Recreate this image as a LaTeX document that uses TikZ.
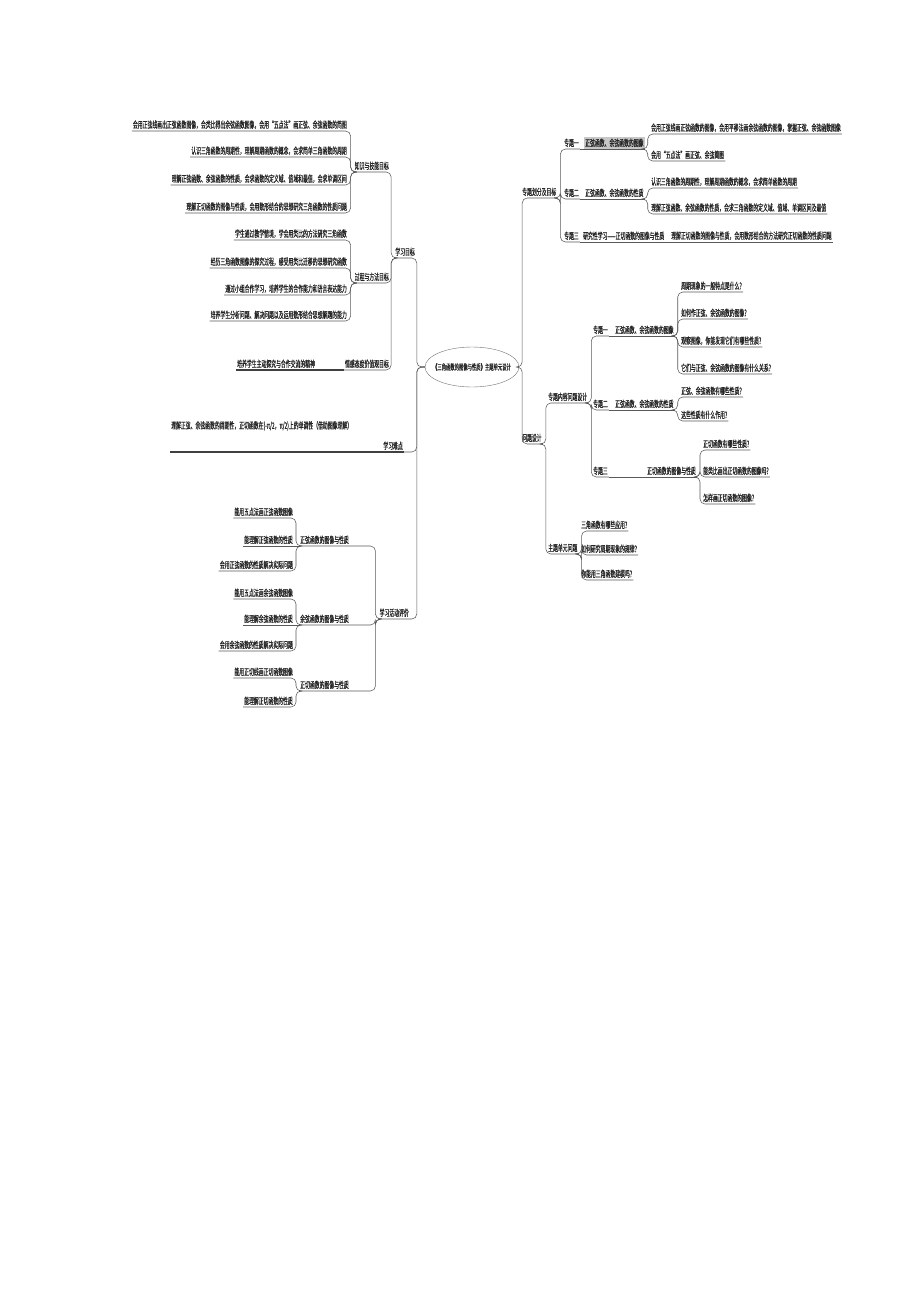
\documentclass[tikz,border=0pt]{standalone}
\usepackage{fontspec}
\newfontfamily\cjk[FakeStretch=0.54, FakeBold=0.6]{Noto Sans CJK SC}
\usetikzlibrary{shapes.geometric}

\begin{document}
\begin{tikzpicture}[x=1pt, y=-1pt,
	topic/.style={font=\cjk\fontsize{9}{10}\selectfont, text=black!85, inner xsep=1pt, inner ysep=1.8pt},
	lt/.style={topic, anchor=south east},
	rt/.style={topic, anchor=south west},
	link/.style={draw=black!65, line width=0.55pt, rounded corners=5pt},
	heavy/.style={draw=black!75, line width=1.4pt},
	hilite/.style={fill=black!22},
	root/.style={draw=black!55, ellipse, minimum width=94, minimum height=40, inner xsep=-10pt, inner ysep=0pt, text=black!85, font=\cjk\fontsize{8}{9}\selectfont}
]
\useasboundingbox (0,0) rectangle (920,1302);

% centre
\node[root] (ctr) at (472,367) {《三角函数的图像与性质》主题单元设计};

% learning goals
\node[lt] (goal) at (416,258) {学习目标};
\node[lt] (kz) at (390,172) {知识与技能目标};
\node[lt] (gc) at (390,283) {过程与方法目标};
\node[lt] (qg) at (390,370) {情感态度价值观目标};

\node[lt] (k1) at (348,131) {会用正弦线画出正弦函数图像，会类比得出余弦函数图像，会用“五点法”画正弦、余弦函数的简图};
\node[lt] (k2) at (348,157) {认识三角函数的周期性，理解周期函数的概念，会求简单三角函数的周期};
\node[lt] (k3) at (348,185) {理解正弦函数、余弦函数的性质，会求函数的定义域、值域和最值，会求单调区间};
\node[lt] (k4) at (348,213) {理解正切函数的图像与性质，会用数形结合的思想研究三角函数的性质问题};

\node[lt] (g1) at (348,240) {学生通过教学情境，学会用类比的方法研究三角函数};
\node[lt] (g2) at (348,268) {经历三角函数图像的探究过程，感受用类比迁移的思想研究函数};
\node[lt] (g3) at (348,295) {通过小组合作学习，培养学生的合作能力和语言表达能力};
\node[lt] (g4) at (348,321) {培养学生分析问题、解决问题以及运用数形结合思想解题的能力};

\node[rt] (q1) at (236,370) {培养学生主动探究与合作交流的精神};

% difficulty
\node[lt] (nd) at (404,452) {学习难点};
\node[rt, minimum height=52] (nd1) at (170,452) {理解正弦、余弦函数的周期性，正切函数在(-π/2，π/2)上的单调性（借助图像理解）};

% evaluation
\node[lt] (pj) at (410,619) {学习活动评价};
\node[lt] (zx) at (350,546) {正弦函数的图像与性质};
\node[lt] (yx) at (350,625) {余弦函数的图像与性质};
\node[lt] (zq) at (350,691) {正切函数的图像与性质};

\node[lt] (zx1) at (294,518) {能用五点法画正弦函数图像};
\node[lt] (zx2) at (294,546) {能理解正弦函数的性质};
\node[lt] (zx3) at (294,571) {会用正弦函数的性质解决实际问题};
\node[lt] (yx1) at (294,599) {能用五点法画余弦函数图像};
\node[lt] (yx2) at (294,625) {能理解余弦函数的性质};
\node[lt] (yx3) at (294,651) {会用余弦函数的性质解决实际问题};
\node[lt] (zq1) at (294,678) {能用正切线画正切函数图像};
\node[lt] (zq2) at (294,707) {能理解正切函数的性质};

% topics and aims
\node[rt] (fh) at (521,198) {专题划分及目标};
\node[rt] (zt1) at (563,149) {专题一};
\node[rt] (zt2) at (563,199) {专题二};
\node[rt] (zt3) at (563,242) {专题三};
\node[rt, hilite] (t1) at (584,149) {正弦函数、余弦函数的图像};
\node[rt] (t2) at (584,199) {正弦函数、余弦函数的性质};
\node[rt] (t3) at (582,242) {研究性学习——正切函数的图像与性质};

\node[rt] (a1) at (650,134) {会用正弦线画正弦函数的图像，会用平移法画余弦函数的图像，掌握正弦、余弦函数图像};
\node[rt] (a2) at (650,161) {会用“五点法”画正弦、余弦简图};
\node[rt] (b1) at (650,188) {认识三角函数的周期性，理解周期函数的概念，会求简单函数的周期};
\node[rt] (b2) at (650,214) {理解正弦函数、余弦函数的性质，会求三角函数的定义域、值域、单调区间及最值};
\node[rt] (c1) at (670,242) {理解正切函数的图像与性质，会用数形结合的方法研究正切函数的性质问题};

% question design
\node[rt] (wt) at (521,444) {问题设计};
\node[rt] (nr) at (547,403) {专题内容问题设计};
\node[rt] (zd) at (547,554) {主题单元问题};

\node[rt] (p1) at (592,336) {专题一};
\node[rt] (p2) at (592,410) {专题二};
\node[rt] (p3) at (592,477) {专题三};
\node[rt] (s1) at (614,336) {正弦函数、余弦函数的图像};
\node[rt] (s2) at (614,410) {正弦函数、余弦函数的性质};
\node[rt] (s3) at (646,477) {正切函数的图像与性质};

\node[rt] (d1) at (680,292) {周期现象的一般特点是什么?};
\node[rt] (d2) at (680,319) {如何作正弦、余弦函数的图像?};
\node[rt] (d3) at (680,347) {观察图像，你能发现它们有哪些性质?};
\node[rt] (d4) at (680,374) {它们与正弦、余弦函数的图像有什么关系?};
\node[rt] (e1) at (680,397) {正弦、余弦函数有哪些性质?};
\node[rt] (e2) at (680,421) {这些性质有什么作用?};
\node[rt] (f1) at (702,450) {正切函数有哪些性质?};
\node[rt] (f2) at (702,477) {能类比画出正切函数的图像吗?};
\node[rt] (f3) at (702,504) {怎样画正切函数的图像?};

\node[rt] (h1) at (580,531) {三角函数有哪些应用?};
\node[rt] (h2) at (580,555) {如何研究周期现象的规律?};
\node[rt] (h3) at (580,580) {你能用三角函数建模吗?};

% connectors, left half
\foreach \c in {goal,nd,pj}
	\draw[link] (ctr.west) -- ++(-8,0) |- (\c.south west);
\foreach \c in {kz,gc,qg}
	\draw[link] (goal.south west) -- ++(-3,0) |- (\c.south west);
\foreach \c in {k1,k2,k3,k4}
	\draw[link] (kz.south west) -- ++(-3,0) |- (\c.south west);
\foreach \c in {g1,g2,g3,g4}
	\draw[link] (gc.south west) -- ++(-3,0) |- (\c.south west);
\draw[link] (qg.south west) -- (q1.south west);
\draw[heavy] (q1.south west) -- (q1.south west -| qg.south west);
\draw[heavy] (nd1.south west) -- (nd.south east);
\foreach \c in {zx,yx,zq}
	\draw[link] (pj.south west) -- ++(-3,0) |- (\c.south west);
\foreach \c in {zx1,zx3}
	\draw[link] (zx.south west) -- ++(-3,0) |- (\c.south west);
\draw[link] (zx.south west) -- (zx2.south west);
\foreach \c in {yx1,yx3}
	\draw[link] (yx.south west) -- ++(-3,0) |- (\c.south west);
\draw[link] (yx.south west) -- (yx2.south west);
\foreach \c in {zq1,zq2}
	\draw[link] (zq.south west) -- ++(-3,0) |- (\c.south west);

% connectors, right half
\foreach \c in {fh,wt}
	\draw[link] (ctr.east) -- ++(3,0) |- (\c.south east);
\foreach \c in {zt1,zt2,zt3}
	\draw[link] (fh.south east) -- ++(3,0) |- (\c.south east);
\draw[link] (zt1.south east) -- (t1.south east);
\draw[link] (zt2.south east) -- (t2.south east);
\draw[link] (zt3.south east) -- (t3.south east);
\foreach \c in {a1,a2}
	\draw[link] (t1.south east) -- ++(3,0) |- (\c.south east);
\foreach \c in {b1,b2}
	\draw[link] (t2.south east) -- ++(3,0) |- (\c.south east);
\draw[link] (t3.south east) -- (c1.south east);

\foreach \c in {nr,zd}
	\draw[link] (wt.south east) -- ++(3,0) |- (\c.south east);
\foreach \c in {p1,p2,p3}
	\draw[link] (nr.south east) -- ++(3,0) |- (\c.south east);
\draw[link] (p1.south east) -- (s1.south east);
\draw[link] (p2.south east) -- (s2.south east);
\draw[link] (p3.south east) -- (s3.south east);
\foreach \c in {d1,d2,d3,d4}
	\draw[link] (s1.south east) -- ++(3,0) |- (\c.south east);
\foreach \c in {e1,e2}
	\draw[link] (s2.south east) -- ++(3,0) |- (\c.south east);
\foreach \c in {f1,f2,f3}
	\draw[link] (s3.south east) -- ++(3,0) |- (\c.south east);
\foreach \c in {h1,h2,h3}
	\draw[link] (zd.south east) -- ++(3,0) |- (\c.south east);
\end{tikzpicture}
\end{document}
